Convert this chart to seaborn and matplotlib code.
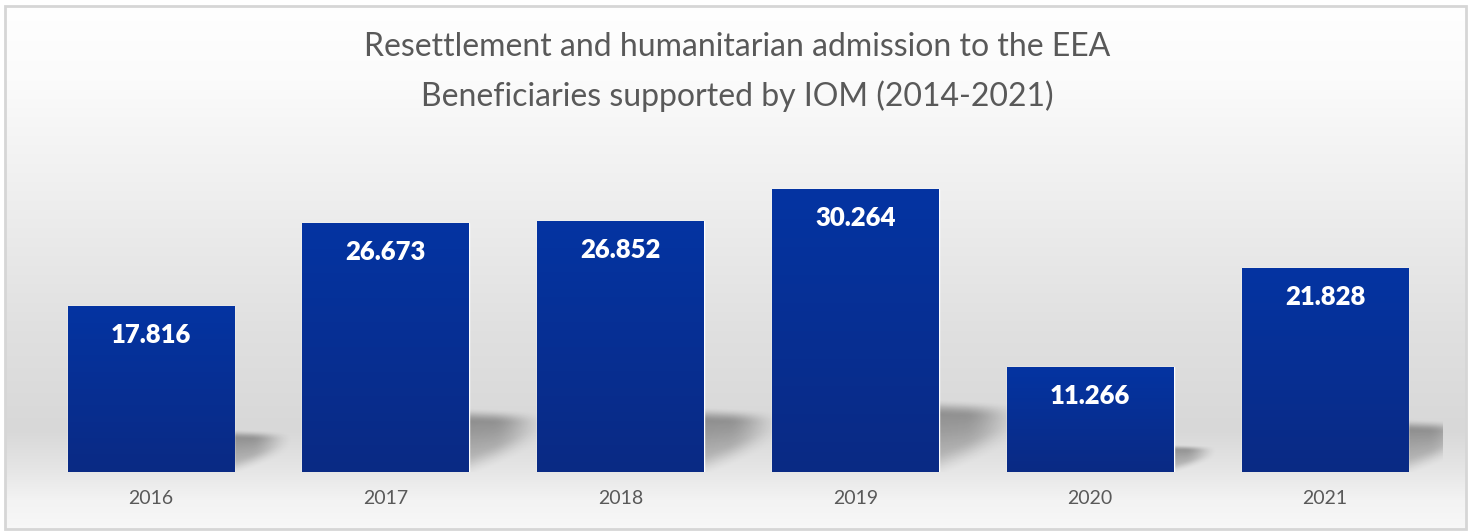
import numpy as np
import matplotlib
matplotlib.use("Agg")
import matplotlib.pyplot as plt
import seaborn as sns
import pandas as pd
from matplotlib.patches import Rectangle
from matplotlib.colors import LinearSegmentedColormap

# Data
years = ["2016", "2017", "2018", "2019", "2020", "2021"]
beneficiaries = [17816, 26673, 26852, 30264, 11266, 21828]
value_labels = ["17.816", "26.673", "26.852", "30.264", "11.266", "21.828"]
title_lines = ["Resettlement and humanitarian admission to the EEA",
               "Beneficiaries supported by IOM (2014-2021)"]

df = pd.DataFrame({"year": years, "beneficiaries": beneficiaries})

sns.set_theme(style="white")
plt.rcParams["font.family"] = ["Lato", "DejaVu Sans"]

W, H = 1474, 531
fig = plt.figure(figsize=(W / 100, H / 100), dpi=100)
fig.patch.set_facecolor("white")

# background gradient (white at the top, light gray low, lighter at the bottom)
ax_bg = fig.add_axes([0, 0, 1, 1], zorder=0)
ys = np.arange(H)
stops_y = [0, 80, 200, 330, 430, 470, 500, 531]
stops_g = [255, 251, 238, 224, 216, 230, 243, 248]
gray = np.interp(ys, stops_y, stops_g) / 255.0
bg = np.repeat(gray[:, None], 10, axis=1)
ax_bg.imshow(np.dstack([bg, bg, bg]), aspect="auto", extent=[0, W, H, 0])
ax_bg.set_xlim(0, W)
ax_bg.set_ylim(H, 0)
ax_bg.axis("off")
# white outside of the frame + frame line
for r in [(0, 0, W, 5), (0, 0, 5, H), (1467, 0, W - 1467, H), (0, 529, W, 2)]:
    ax_bg.add_patch(Rectangle((r[0], r[1]), r[2], r[3], color="white", lw=0))
ax_bg.add_patch(Rectangle((5.5, 5.5), 1461, 523, fill=False, ec="#d6d6d6", lw=2))

# main axes
ax = fig.add_axes([33.5 / W, 59 / H, 1409 / W, 299 / H], zorder=1)
ax.set_facecolor("none")
sns.barplot(data=df, x="year", y="beneficiaries", color="#0533a0",
            width=0.71, saturation=1, ax=ax, zorder=3)
ax.set_xlim(-0.5, 5.5)
ax.set_ylim(0, 32000)


def smooth(t):
    t = np.clip(t, 0, 1)
    return t * t * (3 - 2 * t)


# soft shadows to the right of each bar
bar_cmap = LinearSegmentedColormap.from_list("bar", ["#0a2a84", "#0434a2"])
for p, v in zip(ax.patches, beneficiaries):
    xr = p.get_x() + p.get_width()
    sw = 0.08 + 0.25 * v / 26000
    sh = 0.27 * v
    nx, ny = 120, 120
    u = np.linspace(0, 1, nx)[None, :]
    w = np.linspace(0, 1.2, ny)[:, None]
    low = 0.0 + 0.5 * u
    up = 0.85 - 0.05 * u
    a_low = smooth((w - low) / 0.35 + 0.3)
    a_up = smooth((up - w) / 0.22 + 0.5)
    ramp = 0.4 + 0.6 * np.clip((w - low) / (up - low), 0, 1)
    fade = smooth((1 - u) / 0.7)
    alpha = 0.36 * a_low * a_up * ramp * fade
    img = np.zeros((ny, nx, 4))
    img[..., 3] = alpha
    ax.imshow(img, extent=[xr - 0.01, xr + sw, 0, sh * 1.2], origin="lower",
              aspect="auto", zorder=2, interpolation="bilinear")

    # gradient fill of the bar
    grad = np.linspace(0, 1, 100)[:, None]
    im = ax.imshow(grad, cmap=bar_cmap, origin="lower", aspect="auto",
                   extent=[p.get_x(), xr, 0, p.get_height()], zorder=4)
    im.set_clip_path(p)

ax.set_aspect("auto")
ax.set_xlim(-0.5, 5.5)
ax.set_ylim(0, 32000)

for i, (v, lab) in enumerate(zip(beneficiaries, value_labels)):
    ax.annotate(lab, (i, v), xytext=(0, -21), textcoords="offset points",
                ha="center", va="center", color="white", fontsize=18.5,
                fontweight="heavy", zorder=5)

ax.set_xlabel("")
ax.set_ylabel("")
ax.set_yticks([])
ax.tick_params(axis="x", length=0, pad=13, labelsize=14, labelcolor="#595959")
sns.despine(ax=ax, left=True, bottom=True)

fig.text(0.5, 1 - 47 / H, title_lines[0], ha="center", va="center",
         fontsize=23, color="#595959")
fig.text(0.5, 1 - 96 / H, title_lines[1], ha="center", va="center",
         fontsize=23, color="#595959")

fig.savefig("out.png", dpi=100)
